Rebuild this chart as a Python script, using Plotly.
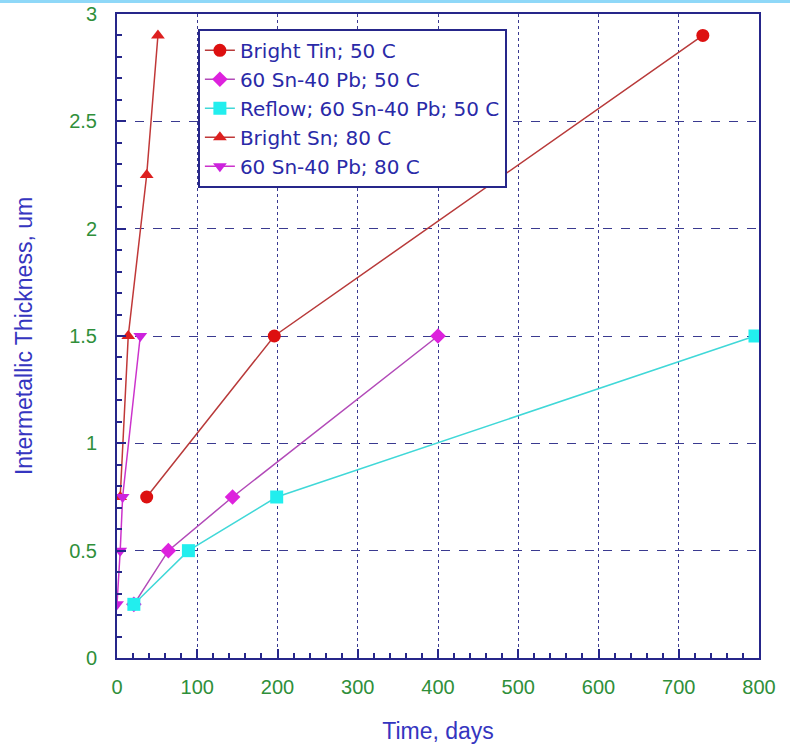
import plotly.graph_objects as go

# Data (Time, days ; Intermetallic thickness, um)
tin50_x = [37, 196, 730]
tin50_y = [0.75, 1.5, 2.9]

snpb50_x = [21, 64, 144, 400]
snpb50_y = [0.25, 0.5, 0.75, 1.5]

reflow50_x = [21, 89, 199, 795]
reflow50_y = [0.25, 0.5, 0.75, 1.5]

sn80_x = [4, 14, 37, 51]
sn80_y = [0.75, 1.5, 2.25, 2.9]

snpb80_x = [0, 4, 7, 29]
snpb80_y = [0.25, 0.5, 0.75, 1.5]

names = ["Bright Tin; 50 C", "60 Sn-40 Pb; 50 C", "Reflow; 60 Sn-40 Pb; 50 C",
         "Bright Sn; 80 C", "60 Sn-40 Pb; 80 C"]

FONT = "Liberation Sans, Arial, sans-serif"
NAVY = "#26268a"
GRID = "#3a3a90"

fig = go.Figure()
fig.add_trace(go.Scatter(x=tin50_x, y=tin50_y, name=names[0], mode="lines+markers",
                         line=dict(color="#b83a3a", width=1.5),
                         marker=dict(symbol="circle", size=13, color="#dd1010")))
fig.add_trace(go.Scatter(x=snpb50_x, y=snpb50_y, name=names[1], mode="lines+markers",
                         line=dict(color="#b24ab8", width=1.5),
                         marker=dict(symbol="diamond", size=12, color="#dd22dd")))
fig.add_trace(go.Scatter(x=reflow50_x, y=reflow50_y, name=names[2], mode="lines+markers",
                         line=dict(color="#40d8d8", width=1.5),
                         marker=dict(symbol="square", size=13, color="#22eeee")))
fig.add_trace(go.Scatter(x=sn80_x, y=sn80_y, name=names[3], mode="lines+markers",
                         line=dict(color="#c03838", width=1.5),
                         marker=dict(symbol="triangle-up", size=12, color="#dd2020")))
fig.add_trace(go.Scatter(x=snpb80_x, y=snpb80_y, name=names[4], mode="lines+markers",
                         line=dict(color="#cc33cc", width=1.5),
                         marker=dict(symbol="triangle-down", size=12, color="#cc22dd")))

fig.update_xaxes(
    range=[0, 800], tickvals=[0, 100, 200, 300, 400, 500, 600, 700, 800],
    ticks="inside", ticklen=9, tickwidth=1.5, tickcolor=NAVY,
    minor=dict(dtick=20, ticks="inside", ticklen=5, tickcolor=NAVY, showgrid=False),
    showline=True, linecolor=NAVY, linewidth=2, mirror=True,
    showgrid=True, gridcolor=GRID, gridwidth=1.3, griddash="dot",
    zeroline=False, automargin=False, ticklabelstandoff=10,
    tickfont=dict(family=FONT, size=20, color="#2f8f3a"),
    title=dict(text="Time, days", font=dict(family=FONT, size=23, color="#3535c0"), standoff=26),
)
fig.update_yaxes(
    range=[0, 3], tickvals=[0, 0.5, 1, 1.5, 2, 2.5, 3],
    ticktext=["0", "0.5", "1", "1.5", "2", "2.5", "3"],
    ticks="inside", ticklen=9, tickwidth=1.5, tickcolor=NAVY,
    minor=dict(dtick=0.1, ticks="inside", ticklen=5, tickcolor=NAVY, showgrid=False),
    showline=True, linecolor=NAVY, linewidth=2, mirror=True,
    showgrid=True, gridcolor=GRID, gridwidth=1.3, griddash="dash",
    zeroline=False, automargin=False, ticklabelstandoff=14,
    tickfont=dict(family=FONT, size=20, color="#2f8f3a"),
    title=dict(text="Intermetallic Thickness, um", font=dict(family=FONT, size=23, color="#3535c0"), standoff=30),
)

fig.update_layout(
    width=790, height=748,
    margin=dict(l=117, r=31, t=14, b=90, autoexpand=False),
    paper_bgcolor="white", plot_bgcolor="white",
    showlegend=True,
    legend=dict(x=0.126, y=0.977, xanchor="left", yanchor="top",
                bgcolor="white", bordercolor=NAVY, borderwidth=2,
                font=dict(family="DejaVu Sans, sans-serif", size=20, color="#2a2aa8"),
                tracegroupgap=0, itemwidth=30),
    shapes=[dict(type="rect", xref="paper", yref="paper",
                 x0=-117/642, x1=1 + 31/642, y0=1 + 11/644, y1=1 + 14/644,
                 fillcolor="#8fd8f8", line=dict(width=0), layer="above")],
)

fig.write_html("out.html")
